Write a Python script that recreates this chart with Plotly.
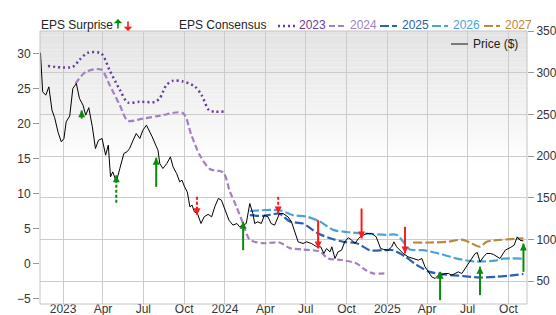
import plotly.graph_objects as go

# ---------------- data ----------------
price_dates = ["2022-11-11","2022-11-16","2022-11-23","2022-11-30","2022-12-07","2022-12-13","2022-12-21","2022-12-28",
    "2023-01-03","2023-01-08","2023-01-16","2023-01-23","2023-01-31","2023-02-07","2023-02-15","2023-02-21","2023-02-28",
    "2023-03-08","2023-03-15","2023-03-22","2023-03-30","2023-04-07","2023-04-13","2023-04-18","2023-04-23","2023-05-01",
    "2023-05-09","2023-05-18","2023-05-25","2023-05-31","2023-06-08","2023-06-15","2023-06-23","2023-06-30","2023-07-08",
    "2023-07-14","2023-07-21","2023-07-29","2023-08-03","2023-08-07","2023-08-14","2023-08-23","2023-08-31","2023-09-06",
    "2023-09-14","2023-09-21","2023-09-26","2023-10-02","2023-10-08","2023-10-14","2023-10-19","2023-10-24","2023-10-31",
    "2023-11-08","2023-11-15","2023-11-24","2023-12-02","2023-12-09","2023-12-17","2023-12-24","2024-01-01","2024-01-10",
    "2024-01-19","2024-01-28","2024-02-03","2024-02-11","2024-02-18","2024-02-26","2024-03-04","2024-03-08","2024-03-15",
    "2024-03-23","2024-03-30","2024-04-07","2024-04-14","2024-04-22","2024-04-29","2024-05-03","2024-05-11","2024-05-22",
    "2024-05-30","2024-06-07","2024-06-14","2024-06-25","2024-07-03","2024-07-14","2024-07-26","2024-08-04","2024-08-11",
    "2024-08-17","2024-08-25","2024-08-29","2024-09-05","2024-09-12","2024-09-20","2024-09-27","2024-10-05","2024-10-13",
    "2024-10-20","2024-10-28","2024-11-04","2024-11-16","2024-11-27","2024-12-07","2024-12-12","2024-12-17","2024-12-23",
    "2025-01-03","2025-01-11","2025-01-16","2025-01-22","2025-01-30","2025-02-06","2025-02-17","2025-03-01","2025-03-12",
    "2025-03-20","2025-03-27","2025-04-04","2025-04-11","2025-04-19","2025-04-26","2025-05-04","2025-05-11","2025-05-19",
    "2025-05-26","2025-06-03","2025-06-10","2025-06-18","2025-06-25","2025-07-03","2025-07-10","2025-07-18","2025-07-23",
    "2025-07-29","2025-08-06","2025-08-13","2025-08-21","2025-08-28","2025-09-12","2025-09-24","2025-10-05","2025-10-14",
    "2025-10-21","2025-10-27","2025-11-04"]
price_vals = [324,277,273,283,255,246,228,217,
    221,241,248,281,287,269,261,249,258,
    235,209,219,221,201,213,175,181,169,
    185,203,205,209,219,227,221,231,237,
    231,223,213,207,191,185,191,199,187,
    179,169,171,163,157,139,141,133,131,
    119,127,130,127,139,149,147,135,123,
    117,119,115,117,119,143,131,119,121,
    119,129,127,119,117,125,131,131,127,
    121,107,97,95,97,95,91,91,83,
    89,85,91,77,85,87,97,102,99,
    95,101,104,107,107,103,97,89,88,
    87,91,97,91,87,83,79,77,75,
    77,67,61,55,53,57,57,59,59,
    57,59,61,59,65,71,77,83,84,
    73,79,83,83,82,77,87,90,93,
    103,99,98]

eps_years = ["2023", "2024", "2025", "2026", "2027"]
eps_2023_dates = ["2022-11-28","2023-01-23","2023-02-07","2023-02-26","2023-03-28","2023-04-16","2023-05-09","2023-05-27",
    "2023-06-23","2023-07-27","2023-08-07","2023-08-22","2023-09-06","2023-09-28","2023-10-25","2023-11-09","2023-11-26",
    "2023-12-09","2023-12-29"]
eps_2023_vals = [28.2,28.1,29.1,30.1,30.0,27.6,24.8,23.0,23.1,23.1,23.6,25.5,26.1,26.0,25.3,24.1,21.9,21.7,21.7]
eps_2024_dates = ["2023-01-29","2023-02-22","2023-03-28","2023-04-16","2023-05-09","2023-05-27","2023-06-30","2023-08-07",
    "2023-09-28","2023-10-17","2023-11-05","2023-11-28","2023-12-28","2024-01-12","2024-01-27","2024-02-11","2024-02-26",
    "2024-03-27","2024-05-03","2024-05-26","2024-06-25","2024-08-02","2024-08-21","2024-09-20","2024-10-24","2024-11-12",
    "2024-11-30","2024-12-31"]
eps_2024_vals = [25.7,27.4,27.7,25.5,22.6,20.4,20.7,21.1,21.5,18.4,15.5,13.5,13.0,10.3,8.1,5.7,3.4,
    2.9,3.0,2.2,2.0,1.7,0.7,0.5,0.0,-0.9,-1.4,-1.4]
eps_2025_dates = ["2024-02-26","2024-03-27","2024-05-03","2024-05-26","2024-06-25","2024-07-26","2024-08-25","2024-09-24",
    "2024-10-24","2024-11-23","2024-12-23","2025-01-14","2025-02-10","2025-03-08","2025-04-07","2025-05-15","2025-06-22",
    "2025-07-29","2025-09-05","2025-11-04"]
eps_2025_vals = [6.9,6.8,7.1,6.0,5.7,4.4,3.6,3.1,2.9,1.9,1.9,1.9,1.0,-0.2,-1.2,-1.6,-1.8,-2.0,-1.9,-1.5]
eps_2026_dates = ["2024-02-26","2024-05-03","2024-06-03","2024-07-03","2024-08-02","2024-09-01","2024-10-01","2024-11-08",
    "2024-12-31","2025-01-22","2025-02-06","2025-02-21","2025-03-23","2025-04-29","2025-06-07","2025-07-14","2025-08-06",
    "2025-09-01","2025-09-20","2025-11-04"]
eps_2026_vals = [7.5,7.6,6.9,6.7,6.0,4.8,4.5,4.3,4.1,4.1,3.1,2.0,1.9,1.4,0.7,0.3,0.3,0.4,0.7,0.7]
eps_2027_dates = ["2025-02-28","2025-04-07","2025-05-15","2025-06-18","2025-07-03","2025-07-29","2025-08-13","2025-09-01",
    "2025-11-04"]
eps_2027_vals = [3.0,3.0,3.1,3.4,3.1,2.4,3.1,3.3,3.6]

surprise_dates = ["2023-02-12","2023-05-01","2023-07-30","2023-10-30","2024-02-11","2024-04-30",
                  "2024-07-29","2024-11-04","2025-02-10","2025-04-30","2025-07-29","2025-11-04"]
surprise_tip = [255, 177, 198, 129, 121, 131, 89, 101, 83, 61, 67, 95]
surprise_tail = [245, 144, 163, 151, 87, 151, 123, 137, 115, 27, 33, 61]
surprise_estimated = [True, True, False, True, False, True, False, False, False, False, False, False]

x_tick_dates = ["2023-01-01","2023-04-01","2023-07-01","2023-10-01","2024-01-01","2024-04-01",
                "2024-07-01","2024-10-01","2025-01-01","2025-04-01","2025-07-01","2025-10-01"]
x_tick_labels = ["2023","Apr","Jul","Oct","2024","Apr","Jul","Oct","2025","Apr","Jul","Oct"]
eps_ticks = [-5, 0, 5, 10, 15, 20, 25, 30]
price_ticks = [50, 100, 150, 200, 250, 300, 350]

# ---------------- styles ----------------
W, H = 556, 315
L, R, T, B = 40, 527, 31, 304
FONT = "Liberation Sans, Arial, sans-serif"
eps_colors = ["#6b3d9a", "#a47fc4", "#2a62b3", "#4aa3d6", "#b8893e"]
eps_dash = ["2px,3px", "6px,3px", "9px,3px", "9px,3px", "9px,3px"]
eps_width = [2.5, 2.2, 2.2, 2.2, 2.2]
GREEN, RED = "#0a8a0a", "#ff1a1a"

def px(x):
    return (x - L) / (R - L)

def py(y):
    return (B - y) / (B - T)

fig = go.Figure()

eps_dates_all = [eps_2023_dates, eps_2024_dates, eps_2025_dates, eps_2026_dates, eps_2027_dates]
eps_vals_all = [eps_2023_vals, eps_2024_vals, eps_2025_vals, eps_2026_vals, eps_2027_vals]
for i, yr in enumerate(eps_years):
    fig.add_trace(go.Scatter(x=eps_dates_all[i], y=eps_vals_all[i], mode="lines", name=yr,
                             line=dict(color=eps_colors[i], dash=eps_dash[i], width=eps_width[i],
                                       shape="spline", smoothing=0.8),
                             yaxis="y", showlegend=False, hoverinfo="skip"))

fig.add_trace(go.Scatter(x=price_dates, y=price_vals, mode="lines", name="Price ($)",
                         line=dict(color="#000000", width=1), yaxis="y2", showlegend=False))

for d, tip, tail, est in zip(surprise_dates, surprise_tip, surprise_tail, surprise_estimated):
    up = tip > tail
    col = GREEN if up else RED
    fig.add_trace(go.Scatter(x=[d, d], y=[tail, tip], mode="lines",
                             line=dict(color=col, width=2, dash="3px,2px" if est else "solid"),
                             yaxis="y2", showlegend=False, hoverinfo="skip"))
    fig.add_trace(go.Scatter(x=[d], y=[tip], mode="markers",
                             marker=dict(symbol="arrow-up" if up else "arrow-down", size=7, color=col,
                                         line=dict(width=0)),
                             yaxis="y2", showlegend=False, hoverinfo="skip"))

shapes = []
# gradient background
n = 30
for k in range(n):
    top = 1 - k * 0.5 / n
    bot = 1 - (k + 1) * 0.5 / n
    c = int(228 + (255 - 228) * (k / (n - 1)))
    shapes.append(dict(type="rect", xref="paper", yref="paper", x0=0, x1=1, y0=bot, y1=top,
                       fillcolor=f"rgb({c},{c},{c})", line=dict(width=0), layer="below"))
# border
shapes.append(dict(type="rect", xref="paper", yref="paper", x0=0, x1=1, y0=0, y1=1,
                   line=dict(color="#c4c4c4", width=1), fillcolor="rgba(0,0,0,0)", layer="above"))

annotations = []
LEG_Y = 25
annotations.append(dict(text="EPS Surprise", x=px(39), y=py(LEG_Y), xref="paper", yref="paper",
                        xanchor="left", yanchor="middle", showarrow=False,
                        font=dict(family=FONT, size=12, color="#222")))
annotations.append(dict(text="", x=px(118), y=py(19), xref="paper", yref="paper", showarrow=True,
                        ax=0, ay=11, arrowhead=1, arrowsize=0.9, arrowwidth=1.6, arrowcolor=GREEN))
annotations.append(dict(text="", x=px(128), y=py(31), xref="paper", yref="paper", showarrow=True,
                        ax=0, ay=-11, arrowhead=1, arrowsize=0.9, arrowwidth=1.6, arrowcolor=RED))
annotations.append(dict(text="EPS Consensus", x=px(177), y=py(LEG_Y), xref="paper", yref="paper",
                        xanchor="left", yanchor="middle", showarrow=False,
                        font=dict(family=FONT, size=12, color="#222")))
leg_x = [(278, 295, 297), (329, 345, 348), (380, 397, 400), (432, 448, 451), (484, 500, 503)]
for i, yr in enumerate(eps_years):
    x0, x1, xt = leg_x[i]
    shapes.append(dict(type="line", xref="paper", yref="paper", x0=px(x0), x1=px(x1),
                       y0=py(LEG_Y + 1), y1=py(LEG_Y + 1),
                       line=dict(color=eps_colors[i], width=eps_width[i], dash=eps_dash[i])))
    annotations.append(dict(text=yr, x=px(xt), y=py(LEG_Y), xref="paper", yref="paper",
                            xanchor="left", yanchor="middle", showarrow=False,
                            font=dict(family=FONT, size=12, color=eps_colors[i])))
# price legend
shapes.append(dict(type="line", xref="paper", yref="paper", x0=px(451), x1=px(468), y0=py(44), y1=py(44),
                   line=dict(color="#7a7a7a", width=2)))
annotations.append(dict(text="Price ($)", x=px(471), y=py(44), xref="paper", yref="paper",
                        xanchor="left", yanchor="middle", showarrow=False,
                        font=dict(family=FONT, size=12, color="#222")))

fig.update_layout(
    width=W, height=H, autosize=False, template="none",
    margin=dict(l=L, r=W - R, t=T, b=H - B, pad=0, autoexpand=False),
    paper_bgcolor="white", plot_bgcolor="white",
    font=dict(family=FONT, size=12, color="#333"),
    showlegend=False,
    shapes=shapes, annotations=annotations,
    xaxis=dict(type="date", range=["2022-11-10", "2025-11-12"], tickvals=x_tick_dates, ticktext=x_tick_labels,
               showgrid=True, gridcolor="#cccccc", gridwidth=1, ticks="", showline=False, zeroline=False,
               automargin=False, tickfont=dict(size=12, color="#333"), ticklabelstandoff=-4),
    yaxis=dict(range=[-5.786, 33.214], tickvals=eps_ticks, showgrid=False, zeroline=False,
               ticks="outside", ticklen=6, tickcolor="#999", tickwidth=1, showline=False,
               automargin=False, tickfont=dict(size=12, color="#333")),
    yaxis2=dict(range=[22.4, 350], tickvals=price_ticks, overlaying="y", side="right",
                showgrid=True, gridcolor="#cccccc", gridwidth=1, zeroline=False,
                ticks="outside", ticklen=6, tickcolor="#999", tickwidth=1, showline=False,
                automargin=False, tickfont=dict(size=12, color="#333")),
)

fig.write_html("out.html", config={"responsive": False, "displayModeBar": False})
